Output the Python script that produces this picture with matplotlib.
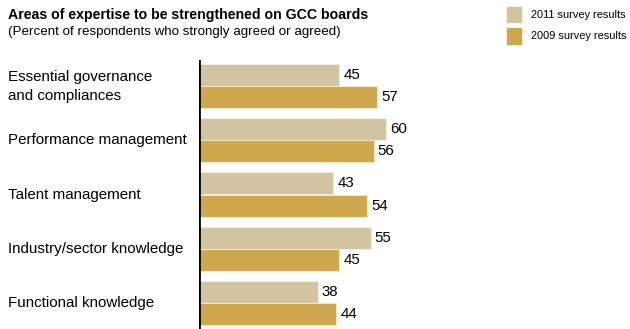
import numpy as np
import matplotlib.pyplot as plt

plt.rcParams['font.family'] = ['Liberation Sans', 'DejaVu Sans']

# data
categories = ['Essential governance\nand compliances', 'Performance management',
              'Talent management', 'Industry/sector knowledge', 'Functional knowledge']
survey_2011 = [45, 60, 43, 55, 38]
survey_2009 = [57, 56, 54, 45, 44]
series_names = ['2011 survey results', '2009 survey results']

c2011 = '#d3c4a1'
c2009 = '#cfa74c'

fig = plt.figure(figsize=(6.3, 3.29), dpi=100)
ax = fig.add_axes([199 / 630, 0, 1 - 199 / 630, (329 - 60) / 329])

y = np.arange(len(categories))
h = 0.405
ax.barh(y - 0.205, survey_2011, height=h, color=c2011, edgecolor='#f3eee2', linewidth=0.8)
ax.barh(y + 0.205, survey_2009, height=h, color=c2009, edgecolor='#f3e6c6', linewidth=0.8)

for i in range(len(categories)):
    ax.text(survey_2011[i] + 1.3, y[i] - 0.205, str(survey_2011[i]), va='center', ha='left', fontsize=10.8)
    ax.text(survey_2009[i] + 1.3, y[i] + 0.205, str(survey_2009[i]), va='center', ha='left', fontsize=10.8)
    ax.text(-191 / 3.12, y[i], categories[i], va='center', ha='left', fontsize=10.9, linespacing=1.45)

ax.set_xlim(0, 431 / 3.12)
ax.set_ylim(4.48, -0.48)
ax.axis('off')
ax.axvline(0, color='black', linewidth=2, ymin=0, ymax=1)

# titles
fig.text(8 / 630, 1 - 15 / 329, 'Areas of expertise to be strengthened on GCC boards',
         fontsize=10.15, fontweight='bold', va='center', ha='left')
fig.text(8 / 630, 1 - 32 / 329, '(Percent of respondents who strongly agreed or agreed)',
         fontsize=9.6, va='center', ha='left')

# legend
for k, (name, col) in enumerate(zip(series_names, [c2011, c2009])):
    yc = 14.5 + 21.5 * k
    fig.patches.append(plt.Rectangle((507 / 630, 1 - (yc + 7.5) / 329), 14 / 630, 15 / 329,
                                     transform=fig.transFigure, color=col))
    fig.text(531 / 630, 1 - yc / 329, name, fontsize=7.9, va='center', ha='left')

fig.savefig('out.png', dpi=100)
